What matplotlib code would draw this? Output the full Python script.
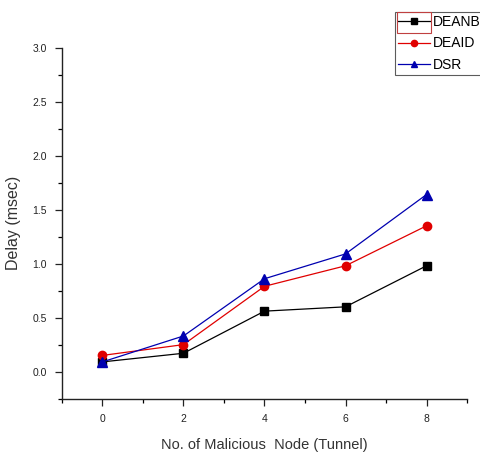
import matplotlib
matplotlib.use("Agg")
import matplotlib.pyplot as plt
from matplotlib.ticker import MultipleLocator
from matplotlib.patches import Rectangle

plt.rcParams['font.family'] = ['Liberation Sans', 'DejaVu Sans']

x = [0, 2, 4, 6, 8]
deanb = [0.09, 0.17, 0.56, 0.60, 0.98]
deaid = [0.15, 0.25, 0.79, 0.98, 1.35]
dsr = [0.09, 0.33, 0.86, 1.09, 1.64]
labels = ["DEANB", "DEAID", "DSR"]

fig = plt.figure(figsize=(4.8, 4.54), dpi=100)
ax = fig.add_axes([0.129, 0.122, 0.844, 0.773])

ax.plot(x, deanb, color='black', marker='s', markersize=5.5, lw=0.9, label=labels[0])
ax.plot(x, deaid, color='#e00000', marker='o', markersize=6, lw=0.9, label=labels[1])
ax.plot(x, dsr, color='#0000b0', marker='^', markersize=6.5, lw=0.9, label=labels[2])

ax.set_xlim(-1, 9)
ax.set_ylim(-0.25, 3.0)
ax.xaxis.set_major_locator(MultipleLocator(2))
ax.xaxis.set_minor_locator(MultipleLocator(1))
ax.yaxis.set_minor_locator(MultipleLocator(0.25))
ax.set_yticks([0.0, 0.5, 1.0, 1.5, 2.0, 2.5, 3.0])
ax.set_yticklabels(['0.0', '0.5', '1.0', '1.5', '2.0', '2.5', '3.0'])

for s in ['top', 'right']:
    ax.spines[s].set_visible(False)
for s in ['left', 'bottom']:
    ax.spines[s].set_linewidth(1.0)
    ax.spines[s].set_color('#222222')

ax.tick_params(which='major', direction='out', length=5, width=0.9, labelsize=7.5, colors='#222222', pad=6)
ax.tick_params(which='minor', direction='out', length=3, width=0.9)

ax.set_xlabel("No. of Malicious  Node (Tunnel)", fontsize=10.5, color='#333333', labelpad=10)
ax.set_ylabel("Delay (msec)", fontsize=11.5, color='#333333', labelpad=8)

leg = fig.legend(loc='upper left', bbox_to_anchor=(395/480, 1 - 12/454), frameon=True,
                 fontsize=10, fancybox=False, edgecolor='#333333', handlelength=2.3,
                 handletextpad=0.2, borderpad=0.2, labelspacing=0.55, borderaxespad=0,
                 markerscale=0.75)
leg.get_frame().set_linewidth(0.8)

rect = Rectangle((397/480, 1 - 33/454), 34/480, 21/454, transform=fig.transFigure,
                 fill=False, edgecolor='#c04040', linewidth=0.8, zorder=10)
fig.add_artist(rect)

fig.savefig("out.png", dpi=100)
